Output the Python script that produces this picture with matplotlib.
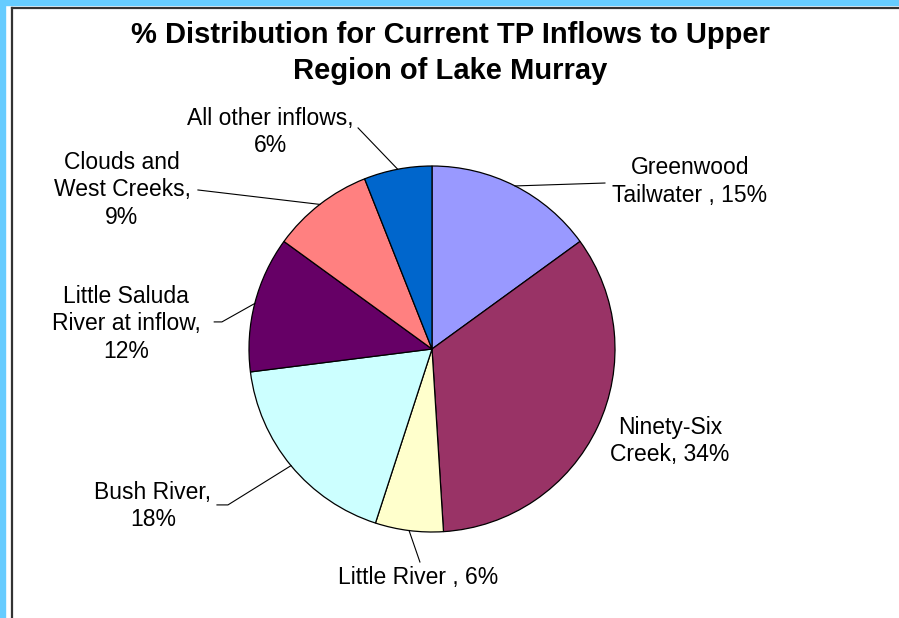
import matplotlib
matplotlib.use('Agg')
import matplotlib.pyplot as plt
from matplotlib.lines import Line2D
from matplotlib.patches import Rectangle
import numpy as np

# data
names = ['Greenwood\nTailwater , 15%', 'Ninety-Six\nCreek, 34%', 'Little River , 6%',
         'Bush River,\n18%', 'Little Saluda\nRiver at inflow,\n12%',
         'Clouds and\nWest Creeks,\n9%', 'All other inflows,\n6%']
shares = [15, 34, 6, 18, 12, 9, 6]
colors = ['#9999FF', '#993366', '#FFFFCC', '#CCFFFF', '#660066', '#FF8080', '#0066CC']

# label placement (pie radius units) and leader line bends
label_pos = [(1.41, 0.913), (1.30, -0.503), (-0.077, -1.251), (-1.525, -0.858),
             (-1.672, 0.137), (-1.694, 0.869), (-0.885, 1.186)]
leader_pts = [[(0.945, 0.907)], None, [(-0.066, -1.164)],
              [(-1.115, -0.852), (-1.175, -0.852)],
              [(-1.148, 0.148), (-1.19, 0.148)],
              [(-1.279, 0.869)], [(-0.404, 1.208)]]

plt.rcParams['font.family'] = ['Liberation Sans', 'DejaVu Sans']

W, H = 899, 618
fig = plt.figure(figsize=(W / 100, H / 100), dpi=100)
fig.patch.set_facecolor('white')

# outer frame: light blue strips and dark border lines
fig.patches.append(Rectangle((0, 1 - 5 / H), 1, 5 / H, transform=fig.transFigure,
                             color='#66CCFF', zorder=0))
fig.patches.append(Rectangle((0, 0), 5 / W, 1, transform=fig.transFigure,
                             color='#66CCFF', zorder=0))
fig.lines.append(Line2D([12 / W, 1], [1 - 7.5 / H, 1 - 7.5 / H], transform=fig.transFigure,
                        color='#333333', lw=1.6))
fig.lines.append(Line2D([12 / W, 12 / W], [0, 1 - 7.5 / H], transform=fig.transFigure,
                        color='#333333', lw=1.6))

cx, cy, r = 432, 349, 183
ax = fig.add_axes([(cx - r) / W, (H - cy - r) / H, 2 * r / W, 2 * r / H])

wedges, _ = ax.pie(shares, colors=colors, startangle=90, counterclock=False, radius=1,
                   wedgeprops=dict(edgecolor='black', linewidth=0.9))
ax.set_xlim(-1, 1)
ax.set_ylim(-1, 1)
ax.set_aspect('equal')
ax.axis('off')

for w, name, pos, pts in zip(wedges, names, label_pos, leader_pts):
    mid = np.deg2rad((w.theta1 + w.theta2) / 2)
    ax.text(pos[0], pos[1], name, ha='center', va='center', fontsize=16.5,
            linespacing=1.27, color='black')
    if pts:
        xs = [np.cos(mid)] + [p[0] for p in pts]
        ys = [np.sin(mid)] + [p[1] for p in pts]
        ax.plot(xs, ys, color='black', lw=0.8, clip_on=False)

fig.text(450 / W, 1 - 53 / H,
         '% Distribution for Current TP Inflows to Upper\nRegion of Lake Murray',
         ha='center', va='center', fontsize=21, fontweight='bold', linespacing=1.4)

fig.savefig('out.png', dpi=100)
